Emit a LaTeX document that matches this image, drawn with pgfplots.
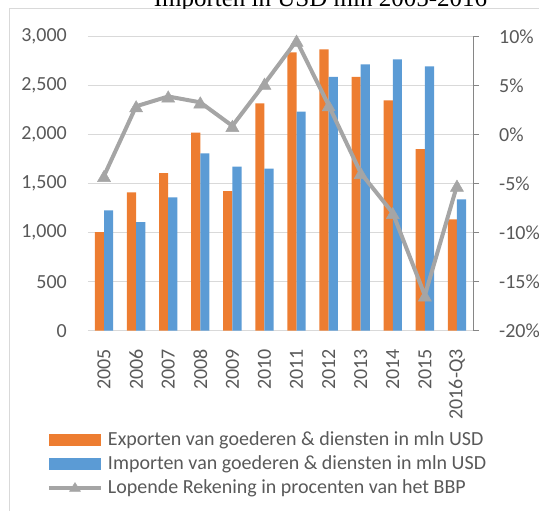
\documentclass[border=0pt]{standalone}
\usepackage{pgfplots}
\pgfplotsset{compat=1.18}
\usepackage{fontspec}
\setmainfont{Carlito}
\newfontfamily\titlefont{Liberation Serif}
\definecolor{exporange}{HTML}{ED7D31}
\definecolor{impblue}{HTML}{5B9BD5}
\definecolor{linegray}{HTML}{A5A5A5}
\definecolor{gridgray}{HTML}{D9D9D9}
\definecolor{txtgray}{HTML}{595959}
\definecolor{axgray}{HTML}{868686}

\begin{document}
\begin{tikzpicture}[font=\fontsize{20}{24}\selectfont]
\draw[gridgray, line width=1pt] (-78pt,-220pt) -- (-78pt,321.7pt) -- (470pt,321.7pt);
\begin{scope}
\clip (-88pt,322.3pt) rectangle (451pt,345pt);
\node[anchor=base, inner sep=0pt, font=\titlefont\fontsize{25}{30}\selectfont] at (232.5pt,323.7pt) {Importen in USD mln 2005-2016};
\end{scope}
\begin{axis}[
  scale only axis, width=385pt, height=294pt,
  xmin=-0.5, xmax=11.5, ymin=0, ymax=3000,
  ybar=0pt, bar width=9.2pt,
  xtick={0,1,2,3,4,5,6,7,8,9,10,11},
  xticklabels={2005,2006,2007,2008,2009,2010,2011,2012,2013,2014,2015,2016-Q3},
  ytick={0,500,1000,1500,2000,2500,3000},
  scaled y ticks=false,
  /pgf/number format/1000 sep={,},
  /pgf/number format/assume math mode=true,
  axis x line*=bottom, axis y line*=left,
  y axis line style={draw=none},
  x axis line style={gridgray, line width=1pt, -},
  xtick style={draw=none}, ytick style={draw=none},
  ymajorgrids, grid style={gridgray, line width=1pt},
  tick label style={text=txtgray, font=\fontsize{20}{24}\selectfont},
  xticklabel style={rotate=90, anchor=east, inner sep=0pt},
  xticklabel shift=14pt,
  yticklabel style={inner sep=0pt},
  yticklabel shift=21pt,
  legend style={at={(axis description cs:-0.1065,-0.3378)}, anchor=north west,
    draw=none, fill=none, inner sep=0pt, outer sep=0pt, row sep=4pt,
    nodes={inner sep=0pt, text height=15pt, text depth=5pt, text=txtgray, font=\fontsize{20}{24}\selectfont},
    /tikz/every odd column/.append style={column sep=5pt}},
  legend cell align=left,
]
\addplot[fill=exporange, draw=none,
  legend image code/.code={\fill[exporange] (0pt,-5.85pt) rectangle (52pt,5.85pt);}]
  coordinates {(0,1007) (1,1412) (2,1609) (3,2020) (4,1425) (5,2320) (6,2841) (7,2871) (8,2589) (9,2351) (10,1854) (11,1137)};
\addlegendentry{Exporten van goederen \& diensten in mln USD}
\addplot[fill=impblue, draw=none,
  legend image code/.code={\fill[impblue] (0pt,-5.85pt) rectangle (52pt,5.85pt);}]
  coordinates {(0,1228) (1,1109) (2,1361) (3,1810) (4,1673) (5,1653) (6,2235) (7,2589) (8,2718) (9,2769) (10,2698) (11,1341)};
\addlegendentry{Importen van goederen \& diensten in mln USD}
\addlegendimage{legend image code/.code={\draw[solid, linegray, line width=4pt] (0pt,0pt) -- (52pt,0pt); \fill[solid, linegray] (20.5pt,-3.3pt) -- (31.5pt,-3.3pt) -- (26pt,5.5pt) -- cycle;}}
\addlegendentry{Lopende Rekening in procenten van het BBP}
\end{axis}
\begin{axis}[
  scale only axis, width=385pt, height=294pt,
  xmin=-0.5, xmax=11.5, ymin=-20, ymax=10,
  axis x line=none, axis y line*=right,
  y axis line style={axgray, line width=1pt, -},
  ytick style={axgray, line width=1pt},
  tick align=outside, major tick length=6pt,
  ytick={-20,-15,-10,-5,0,5,10},
  yticklabels={-20\%,-15\%,-10\%,-5\%,0\%,5\%,10\%},
  tick label style={text=txtgray, font=\fontsize{20}{24}\selectfont},
  yticklabel style={inner sep=0pt, anchor=west},
  yticklabel shift=20pt,
]
\addplot[linegray, line width=4pt, mark=triangle*, mark size=7.5pt,
  mark options={solid, line width=0.5pt, fill=linegray, draw=linegray, yshift=-1.9pt}]
  coordinates {(0,-4.2) (1,2.9) (2,3.9) (3,3.3) (4,0.9) (5,5.2) (6,9.6) (7,3.0) (8,-3.9) (9,-8.0) (10,-16.4) (11,-5.2)};
\end{axis}
\pgfresetboundingbox
\useasboundingbox (-88pt,-180.3pt) rectangle (451pt,330.7pt);
\end{tikzpicture}
\end{document}
